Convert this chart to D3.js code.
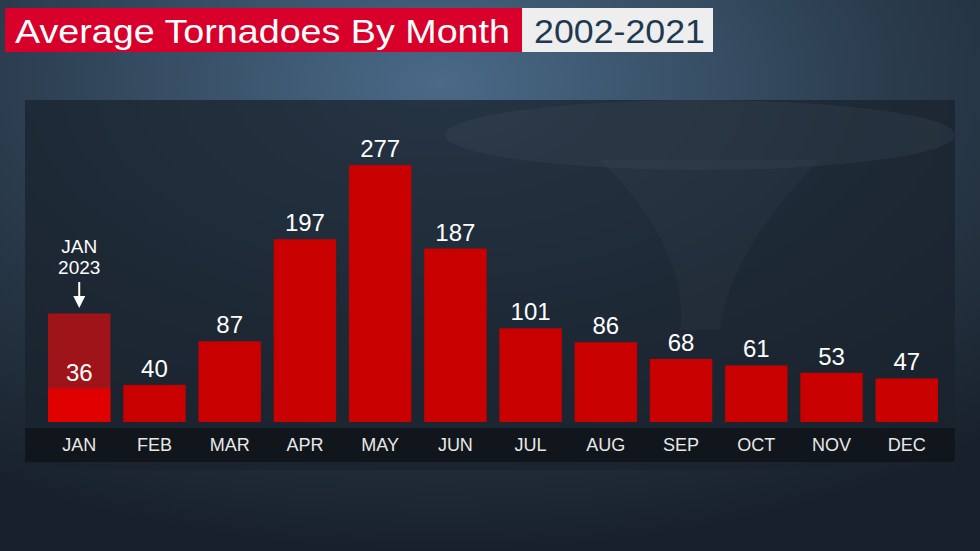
<!DOCTYPE html><html><head><meta charset="utf-8">
<script src="https://cdn.jsdelivr.net/npm/d3@7"></script>
<style>body{margin:0;background:#1e2a36;}svg{display:block}</style></head><body>
<svg id="c" width="980" height="551"></svg>
<script>
const months=["JAN","FEB","MAR","APR","MAY","JUN","JUL","AUG","SEP","OCT","NOV","DEC"];
const averages=[36,40,87,197,277,187,101,86,68,61,53,47];
const jan2023Value=117;
const jan2023Label=["JAN","2023"];
const title="Average Tornadoes By Month";
const subtitle="2002-2021";

const svg=d3.select("#c");
const defs=svg.append("defs");
const bg=defs.append("radialGradient").attr("id","bg").attr("cx","45%").attr("cy","15%").attr("r","85%");
bg.append("stop").attr("offset","0%").attr("stop-color","#4a6a88");
bg.append("stop").attr("offset","55%").attr("stop-color","#2a3b4c");
bg.append("stop").attr("offset","100%").attr("stop-color","#18212b");
svg.append("rect").attr("width",980).attr("height",551).attr("fill","url(#bg)");
svg.append("rect").attr("x",25).attr("y",100).attr("width",930).attr("height",370).attr("fill","#1a232d").attr("opacity",0.75);
svg.append("ellipse").attr("cx",700).attr("cy",135).attr("rx",255).attr("ry",35).attr("fill","#5a6670").attr("opacity",0.15);
svg.append("path").attr("d","M600,160 Q690,250 680,330 L720,330 Q730,250 820,160 Z").attr("fill","#5a6670").attr("opacity",0.1);

const x=d3.scaleBand().domain(months).range([45,941]).paddingInner(0.17).paddingOuter(0.04);
const y=d3.scaleLinear().domain([0,290]).range([422,153]);

svg.append("rect").attr("x",25).attr("y",428).attr("width",930).attr("height",34).attr("fill","#10161c");
svg.selectAll(".m").data(months).join("text").attr("x",d=>x(d)+x.bandwidth()/2).attr("y",451)
 .attr("text-anchor","middle").attr("fill","#e8e8e8").attr("font-family","Liberation Sans, Arial").attr("font-size",18).text(d=>d);

svg.append("rect").attr("x",x("JAN")).attr("y",y(jan2023Value)).attr("width",x.bandwidth()).attr("height",y(0)-y(jan2023Value)).attr("fill","#9e1418");
svg.selectAll(".b").data(averages).join("rect").attr("x",(d,i)=>x(months[i])).attr("y",d=>y(d))
 .attr("width",x.bandwidth()).attr("height",d=>y(0)-y(d)).attr("fill",(d,i)=>i==0?"#e00000":"#c80000");
svg.selectAll(".v").data(averages).join("text").attr("x",(d,i)=>x(months[i])+x.bandwidth()/2).attr("y",d=>y(d)-8)
 .attr("text-anchor","middle").attr("fill","#fff").attr("font-family","Liberation Sans, Arial").attr("font-size",24).text(d=>d);

const cx=x("JAN")+x.bandwidth()/2;
svg.selectAll(".jl").data(jan2023Label).join("text").attr("x",cx).attr("y",(d,i)=>253+i*21).attr("text-anchor","middle")
 .attr("fill","#fff").attr("font-family","Liberation Sans, Arial").attr("font-size",19).text(d=>d);
svg.append("line").attr("x1",cx).attr("x2",cx).attr("y1",282).attr("y2",298).attr("stroke","#fff").attr("stroke-width",2);
svg.append("path").attr("d",`M${cx-6},296 L${cx+6},296 L${cx},308 Z`).attr("fill","#fff");

svg.append("rect").attr("x",5).attr("y",8).attr("width",517).attr("height",44).attr("fill","#d8002a");
svg.append("rect").attr("x",522).attr("y",8).attr("width",191).attr("height",44).attr("fill","#eeeeee");
svg.append("text").attr("x",15).attr("y",43).attr("fill","#fff").attr("font-family","Liberation Sans, Arial").attr("font-size",34)
 .attr("textLength",495).attr("lengthAdjust","spacingAndGlyphs").text(title);
svg.append("text").attr("x",534).attr("y",43).attr("fill","#1f3a50").attr("font-family","Liberation Sans, Arial").attr("font-size",34)
 .attr("textLength",171).attr("lengthAdjust","spacingAndGlyphs").text(subtitle);
</script></body></html>
